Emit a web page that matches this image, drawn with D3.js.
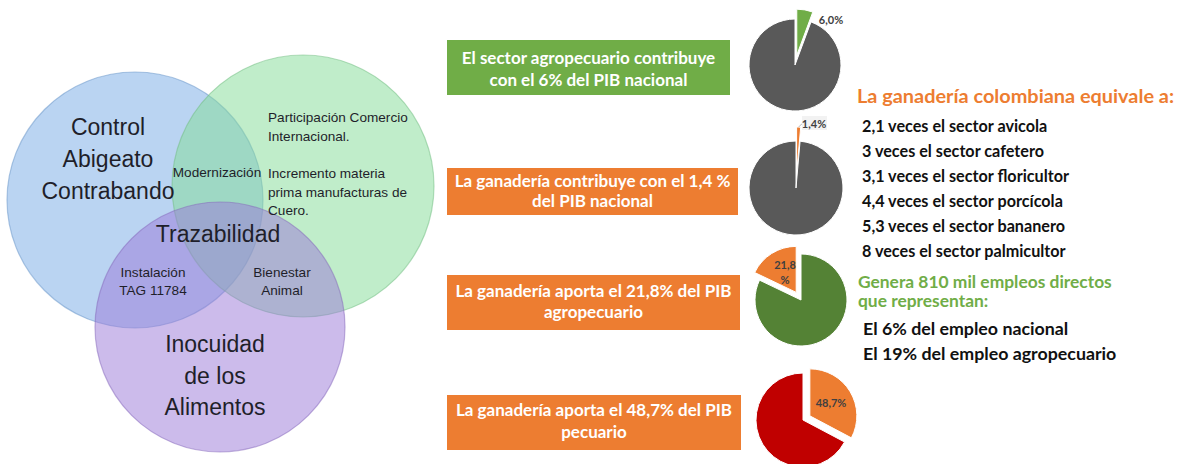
<!DOCTYPE html>
<html>
<head>
<meta charset="utf-8">
<script src="https://cdn.jsdelivr.net/npm/d3@7"></script>
<style>
  html, body { margin: 0; padding: 0; background: #fff; }
  svg { display: block; }
</style>
</head>
<body>
<div id="chart"></div>
<script>
// --- data ---
const vennNames = ["Control Abigeato Contrabando", "Comercio", "Inocuidad de los Alimentos"];
const vennColors = ["#76a9e6", "#82db96", "#9a78d8"];

const pieShares = [6.0, 1.4, 21.8, 48.7];
const pieRest = [100, 100, 100, 100];
const pieLabels = ["6,0%", "1,4%", "21,8\n%", "48,7%"];
const pieShareColors = ["#70ad47", "#ed7d31", "#ed7d31", "#ed7d31"];
const pieRestColors = ["#595959", "#595959", "#548235", "#c00000"];

const boxTexts = [
  ["El sector agropecuario contribuye", "con el 6% del PIB nacional"],
  ["La ganadería contribuye con el 1,4 %", "del PIB nacional"],
  ["La ganadería aporta el 21,8% del PIB", "agropecuario"],
  ["La ganadería aporta el 48,7% del PIB", "pecuario"]
];
const boxColors = ["#70ad47", "#ed7d31", "#ed7d31", "#ed7d31"];

const equivTitle = "La ganadería colombiana equivale a:";
const equivLines = [
  "2,1 veces el sector avicola",
  "3 veces el sector cafetero",
  "3,1 veces el sector floricultor",
  "4,4 veces el sector porcícola",
  "5,3 veces el sector bananero",
  "8 veces el sector palmicultor"
];
const employTitle = ["Genera 810 mil empleos directos", "que representan:"];
const employLines = ["El 6% del empleo nacional", "El 19% del empleo agropecuario"];

// --- layout ---
const W = 1183, H = 464;
const svg = d3.select("#chart").append("svg")
  .attr("width", W).attr("height", H);
svg.append("rect").attr("width", W).attr("height", H).attr("fill", "#fff");

const vennCircles = [
  { cx: 135, cy: 200, r: 128 },
  { cx: 303, cy: 186, r: 131 },
  { cx: 220, cy: 327, r: 125 }
];

const venn = svg.append("g");
venn.selectAll("circle")
  .data(vennNames)
  .join("circle")
  .attr("cx", (d, i) => vennCircles[i].cx)
  .attr("cy", (d, i) => vennCircles[i].cy)
  .attr("r", (d, i) => vennCircles[i].r)
  .attr("fill", (d, i) => vennColors[i])
  .attr("fill-opacity", 0.5)
  .attr("stroke", (d, i) => d3.color(vennColors[i]).darker(0.4))
  .attr("stroke-opacity", 0.5)
  .attr("stroke-width", 1.2);

const sans = "'Liberation Sans', Arial, sans-serif";
// text blocks inside the venn: [lines, x, firstBaseline, lineHeight, size, anchor]
const vennText = [
  [["Control", "Abigeato", "Contrabando"], 108, 135, 32, 23, "middle"],
  [["Inocuidad", "de los", "Alimentos"], 215, 352, 31.5, 23, "middle"],
  [["Trazabilidad"], 218, 242, 0, 23, "middle"],
  [["Modernización"], 217, 177, 0, 13.6, "middle"],
  [["Participación Comercio", "Internacional."], 268, 122, 18.5, 13.6, "start"],
  [["Incremento materia", "prima manufacturas de", "Cuero."], 268, 178, 18.5, 13.6, "start"],
  [["Instalación", "TAG 11784"], 153, 277, 18, 13.6, "middle"],
  [["Bienestar", "Animal"], 282, 277, 18, 13.6, "middle"]
];
vennText.forEach(([lines, x, y, lh, size, anchor]) => {
  const t = venn.append("text")
    .attr("font-family", sans)
    .attr("font-size", size)
    .attr("fill", "#1f1f2a")
    .attr("text-anchor", anchor);
  lines.forEach((line, j) => {
    t.append("tspan").attr("x", x).attr("y", y + j * lh).text(line);
  });
});

// --- coloured boxes ---
const cal = "Lato, 'Open Sans', sans-serif";
const boxes = [
  { x: 447, y: 40, w: 283, h: 55, b1: 64, b2: 86 },
  { x: 447, y: 168, w: 291, h: 47, b1: 187, b2: 207 },
  { x: 447, y: 275, w: 293, h: 55, b1: 297, b2: 318 },
  { x: 447, y: 395, w: 294, h: 55, b1: 416, b2: 438 }
];
const boxG = svg.append("g");
boxTexts.forEach((lines, i) => {
  const b = boxes[i];
  boxG.append("rect")
    .attr("x", b.x).attr("y", b.y).attr("width", b.w).attr("height", b.h)
    .attr("fill", boxColors[i]);
  lines.forEach((line, j) => {
    boxG.append("text")
      .attr("x", b.x + b.w / 2)
      .attr("y", j === 0 ? b.b1 : b.b2)
      .attr("text-anchor", "middle")
      .attr("font-family", cal)
      .attr("font-weight", 700)
      .attr("font-size", 17)
      .attr("fill", "#fff")
      .text(line);
  });
});

// --- pies ---
const pies = [
  { cx: 795, cy: 65, r: 46, pop: 10, first: true },
  { cx: 796, cy: 188, r: 47, pop: 14, first: true },
  { cx: 801, cy: 300, r: 46, pop: 9, first: false },
  { cx: 803, cy: 420, r: 47, pop: 8, first: true }
];
const labelPos = [[831, 20], [814, 124], [785, 265], [831, 403]];

pieShares.forEach((share, i) => {
  const p = pies[i];
  // the highlighted slice sits either right after 12 o'clock or right before it
  const values = p.first
    ? [{ v: share, c: pieShareColors[i], pop: true }, { v: pieRest[i], c: pieRestColors[i], pop: false }]
    : [{ v: pieRest[i], c: pieRestColors[i], pop: false }, { v: share, c: pieShareColors[i], pop: true }];
  const arcs = d3.pie().sort(null).value(d => d.v)(values);
  const arc = d3.arc().innerRadius(0).outerRadius(p.r);
  const g = svg.append("g").attr("transform", `translate(${p.cx},${p.cy})`);
  g.selectAll("path")
    .data(arcs)
    .join("path")
    .attr("d", arc)
    .attr("fill", d => d.data.c)
    .attr("stroke", "#fff")
    .attr("stroke-width", 1)
    .attr("transform", d => {
      if (!d.data.pop) return null;
      const mid = (d.startAngle + d.endAngle) / 2;
      return `translate(${Math.sin(mid) * p.pop},${-Math.cos(mid) * p.pop})`;
    });

  const [lx, ly] = labelPos[i];
  const lines = pieLabels[i].split("\n");
  if (i === 1) {
    // small callout with leader line
    const tip = arcs[0];
    const mid = (tip.startAngle + tip.endAngle) / 2;
    const tx = p.cx + Math.sin(mid) * (p.r + p.pop);
    const ty = p.cy - Math.cos(mid) * (p.r + p.pop);
    svg.append("rect").attr("x", lx - 12).attr("y", ly - 8)
      .attr("width", 25).attr("height", 14).attr("fill", "#f2f2f2");
    svg.append("polyline")
      .attr("points", `${tx},${ty} ${tx + 3},${ly} ${lx - 12},${ly}`)
      .attr("fill", "none").attr("stroke", "#a6a6a6").attr("stroke-width", 0.8);
  }
  const t = svg.append("text")
    .attr("text-anchor", "middle")
    .attr("font-family", cal)
    .attr("font-weight", 700)
    .attr("font-size", 11)
    .attr("fill", "#404040");
  lines.forEach((line, j) => {
    t.append("tspan").attr("x", lx).attr("y", ly + 4 + j * 15).text(line);
  });
});

// --- right side text ---
const right = svg.append("g").attr("font-family", cal).attr("font-weight", 700);
right.append("text")
  .attr("x", 857).attr("y", 103)
  .attr("font-size", 19.9).attr("fill", "#ed7d31")
  .text(equivTitle);
right.selectAll(".eq")
  .data(equivLines)
  .join("text")
  .attr("class", "eq")
  .attr("x", 862)
  .attr("y", (d, i) => 132 + i * 25)
  .attr("font-size", 16.2)
  .attr("fill", "#111")
  .text(d => d);
right.selectAll(".et")
  .data(employTitle)
  .join("text")
  .attr("class", "et")
  .attr("x", 858)
  .attr("y", (d, i) => 288 + i * 19)
  .attr("font-size", 17.4)
  .attr("fill", "#70ad47")
  .text(d => d);
right.selectAll(".el")
  .data(employLines)
  .join("text")
  .attr("class", "el")
  .attr("x", 863)
  .attr("y", (d, i) => 335 + i * 25)
  .attr("font-size", 17.8)
  .attr("fill", "#111")
  .text(d => d);
</script>
</body>
</html>
